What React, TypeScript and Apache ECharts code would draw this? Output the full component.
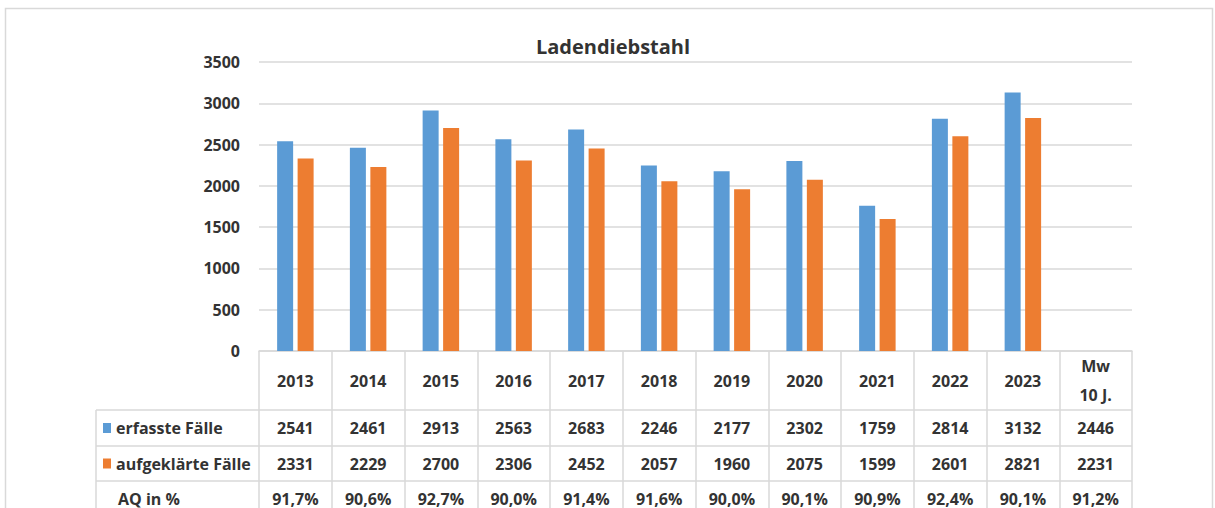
import React, { useEffect, useRef } from "react";
import * as echarts from "echarts";

const years = ["2013", "2014", "2015", "2016", "2017", "2018", "2019", "2020", "2021", "2022", "2023"];
const mwLabel = "Mw\n10 J.";
const erfasst = [2541, 2461, 2913, 2563, 2683, 2246, 2177, 2302, 1759, 2814, 3132];
const aufgeklaert = [2331, 2229, 2700, 2306, 2452, 2057, 1960, 2075, 1599, 2601, 2821];
const aqProzent = ["91,7%", "90,6%", "92,7%", "90,0%", "91,4%", "91,6%", "90,0%", "90,1%", "90,9%", "92,4%", "90,1%"];
const mwErfasst = 2446;
const mwAufgeklaert = 2231;
const mwAq = "91,2%";
const yTicks = [0, 500, 1000, 1500, 2000, 2500, 3000, 3500];
const rowLabels = ["erfasste Fälle", "aufgeklärte Fälle", "AQ in %"];
const title = "Ladendiebstahl";

const BLUE = "#5B9BD5";
const ORANGE = "#ED7D31";
const LINE = "#d9d9d9";
const TXT = "#333333";
const FONT = "'Open Sans', 'Noto Sans', sans-serif";

export default function App() {
  const ref = useRef<HTMLDivElement>(null);
  useEffect(() => {
    document.body.style.margin = "0";
    const chart = echarts.init(ref.current!, null, { renderer: "svg" });
    const W = 1215, H = 508;
    const gridLeft = 259, gridRightX = 1132, gridTop = 62, axisY = 351;
    const headerH = 59;
    const rowH = [36, 35, 35];
    const tableLeft = 96;

    const categories = [...years, mwLabel];
    const row1 = [...erfasst.map(String), String(mwErfasst)];
    const row2 = [...aufgeklaert.map(String), String(mwAufgeklaert)];
    const row3 = [...aqProzent, mwAq];

    const base = { fontFamily: FONT, fontSize: 16, fontWeight: "bold" as const, color: TXT };

    const rowLineYs: number[] = [];
    let yy = axisY + headerH;
    rowLineYs.push(yy);
    rowH.forEach((h) => { yy += h; rowLineYs.push(yy); });

    const graphics: any[] = [
      { type: "rect", shape: { x: 5.5, y: 8.5, width: 1207, height: 540 }, style: { fill: "none", stroke: LINE, lineWidth: 1.5 }, silent: true },
      { type: "text", x: 613, y: 46, style: { text: title, fontFamily: FONT, fontSize: 20, fontWeight: "bold", fill: TXT, align: "center", verticalAlign: "middle" } },
      { type: "line", shape: { x1: tableLeft, y1: rowLineYs[0], x2: tableLeft, y2: H + 20 }, style: { stroke: LINE, lineWidth: 1.5 } },
    ];
    rowLineYs.slice(0, 3).forEach((ly) => {
      graphics.push({ type: "line", shape: { x1: tableLeft, y1: ly, x2: gridRightX, y2: ly }, style: { stroke: LINE, lineWidth: 1.5 } });
    });
    rowLabels.forEach((lab, i) => {
      const cy = rowLineYs[i] + rowH[i] / 2;
      if (i < 2) {
        graphics.push({ type: "rect", shape: { x: 103, y: cy - 5, width: 8, height: 10 }, style: { fill: i === 0 ? BLUE : ORANGE } });
      }
      graphics.push({ type: "text", x: i < 2 ? 116 : 118, y: cy, style: { text: lab, fontFamily: FONT, fontSize: 16, fontWeight: "bold", fill: TXT, align: "left", verticalAlign: "middle" } });
    });

    const cell = (lh: number) => ({ ...base, lineHeight: lh, align: "center" as const });

    chart.setOption({
      animation: false,
      grid: { left: gridLeft, right: W - gridRightX, top: gridTop, bottom: H - axisY, containLabel: false },
      xAxis: {
        type: "category",
        data: categories,
        axisLine: { lineStyle: { color: LINE, width: 1.5 } },
        axisTick: { show: true, interval: 0, length: 200, lineStyle: { color: LINE, width: 1.5 } },
        axisLabel: {
          interval: 0,
          margin: 0,
          verticalAlign: "top",
          formatter: (v: string, i: number) => {
            const head = v.split("\n");
            const h = head.length > 1 ? head.map((p) => `{h2|${p}}`).join("\n") : `{h|${v}}`;
            return `${h}\n{r1|${row1[i]}}\n{r2|${row2[i]}}\n{r3|${row3[i]}}`;
          },
          rich: {
            h: cell(headerH),
            h2: cell(headerH / 2),
            r1: cell(rowH[0]),
            r2: cell(rowH[1]),
            r3: cell(rowH[2]),
          },
        },
      },
      yAxis: {
        type: "value",
        min: yTicks[0],
        max: yTicks[yTicks.length - 1],
        interval: yTicks[1] - yTicks[0],
        axisLine: { show: false },
        axisTick: { show: false },
        axisLabel: { margin: 19, ...base, formatter: (v: number) => String(v) },
        splitLine: { lineStyle: { color: LINE, width: 1.5 } },
      },
      series: [
        { name: rowLabels[0], type: "bar", data: [...erfasst, null], barWidth: 16, barGap: "28%", itemStyle: { color: BLUE } },
        { name: rowLabels[1], type: "bar", data: [...aufgeklaert, null], barWidth: 16, itemStyle: { color: ORANGE } },
      ],
      graphic: graphics,
    });
    return () => chart.dispose();
  }, []);
  return <div ref={ref} style={{ width: 1215, height: 508, background: "#fff" }} />;
}
